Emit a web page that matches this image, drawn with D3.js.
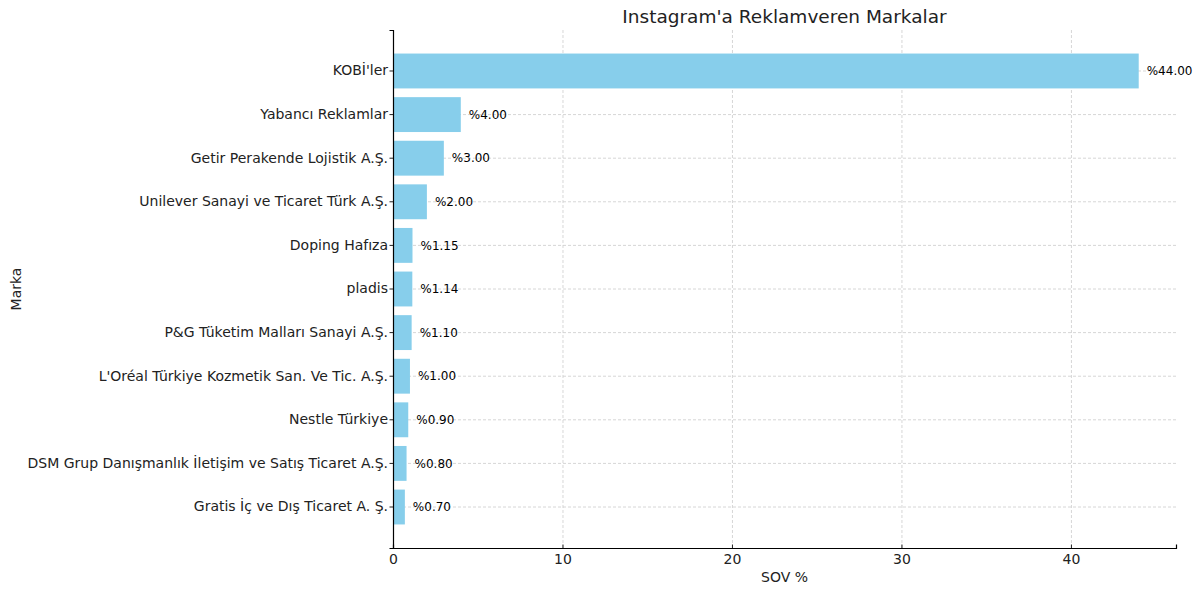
<!DOCTYPE html>
<html>
<head>
<meta charset="utf-8">
<script src="https://cdn.jsdelivr.net/npm/d3@7"></script>
<style>
  body { margin: 0; background: #fff; }
  text { font-family: "DejaVu Sans", sans-serif; fill: #222; }
  .grid line { stroke: #cccccc; stroke-dasharray: 3,2; stroke-width: 0.8; }
  .grid .domain { display: none; }
</style>
</head>
<body>
<div id="chart"></div>
<script>
// data
const brands = [
  "KOBİ'ler",
  "Yabancı Reklamlar",
  "Getir Perakende Lojistik A.Ş.",
  "Unilever Sanayi ve Ticaret Türk A.Ş.",
  "Doping Hafıza",
  "pladis",
  "P&G Tüketim Malları Sanayi A.Ş.",
  "L'Oréal Türkiye Kozmetik San. Ve Tic. A.Ş.",
  "Nestle Türkiye",
  "DSM Grup Danışmanlık İletişim ve Satış Ticaret A.Ş.",
  "Gratis İç ve Dış Ticaret A. Ş."
];
const sov = [44, 4, 3, 2, 1.15, 1.14, 1.10, 1.00, 0.90, 0.80, 0.70];
const xTicks = [0, 10, 20, 30, 40];

const width = 1200, height = 593;
const margin = {top: 30, right: 24, bottom: 45, left: 393};

const svg = d3.select("#chart")
              .append("svg")
              .attr("width", width)
              .attr("height", height);

const x = d3.scaleLinear()
            .domain([0, d3.max(sov) * 1.05])
            .range([margin.left, width - margin.right]);

const y = d3.scaleBand()
            .domain(brands)
            .range([margin.top, height - margin.bottom])
            .paddingInner(0.2)
            .paddingOuter(0.54);

// grid
svg.append("g")
   .attr("class", "grid")
   .attr("transform", `translate(0, ${height - margin.bottom})`)
   .call(d3.axisBottom(x).tickValues(xTicks).tickSize(-(height - margin.top - margin.bottom)).tickFormat(""));

svg.append("g")
   .attr("class", "grid")
   .attr("transform", `translate(${margin.left}, 0)`)
   .call(d3.axisLeft(y).tickSize(-(width - margin.right - margin.left)).tickFormat(""));

// bars
svg.selectAll("rect.bar")
   .data(brands)
   .enter()
   .append("rect")
   .attr("class", "bar")
   .attr("x", x(0))
   .attr("y", d => y(d))
   .attr("width", (d, i) => x(sov[i]) - x(0))
   .attr("height", y.bandwidth())
   .style("fill", "#87ceeb");

// value labels
svg.selectAll("text.val")
   .data(brands)
   .enter()
   .append("text")
   .attr("class", "val")
   .attr("x", (d, i) => x(sov[i]) + 8)
   .attr("y", d => y(d) + y.bandwidth() / 2)
   .attr("dy", "0.35em")
   .style("font-size", "12px")
   .style("fill", "#000")
   .text((d, i) => "%" + d3.format(".2f")(sov[i]));

// axes
const xAxis = svg.append("g")
   .attr("transform", `translate(0, ${height - margin.bottom})`)
   .call(d3.axisBottom(x).tickValues(xTicks).tickSize(-3.5).tickPadding(6).tickFormat(d3.format("d")));
xAxis.selectAll("text").style("font-size", "14px").style("fill", "#222");

const yAxis = svg.append("g")
   .attr("transform", `translate(${margin.left}, 0)`)
   .call(d3.axisLeft(y).tickSize(3.5).tickPadding(1.5));
yAxis.selectAll("text").style("font-size", "14px").style("fill", "#222");

[xAxis, yAxis].forEach(a => {
  a.select(".domain").attr("stroke", "#000").attr("stroke-width", 1.2);
  a.selectAll(".tick line").attr("stroke", "#222");
});

// titles
svg.append("text")
   .attr("x", (margin.left + width - margin.right) / 2)
   .attr("y", 23)
   .style("text-anchor", "middle")
   .style("font-size", "18.5px")
   .text("Instagram'a Reklamveren Markalar");

svg.append("text")
   .attr("x", (margin.left + width - margin.right) / 2)
   .attr("y", 582)
   .style("text-anchor", "middle")
   .style("font-size", "14px")
   .text("SOV %");

svg.append("text")
   .attr("transform", `translate(21, ${(margin.top + height - margin.bottom) / 2}) rotate(-90)`)
   .style("text-anchor", "middle")
   .style("font-size", "14px")
   .text("Marka");
</script>
</body>
</html>
